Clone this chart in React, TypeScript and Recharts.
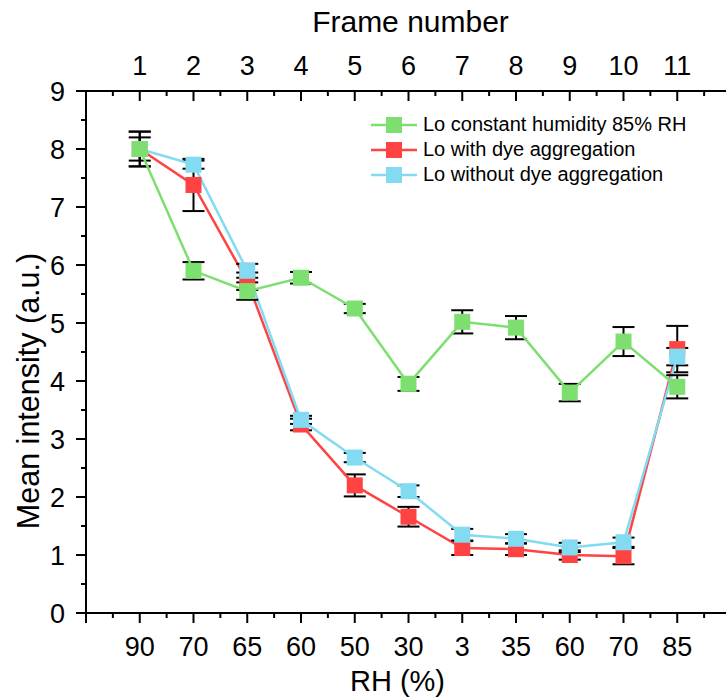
import React from "react";
import {
  LineChart,
  Line,
  XAxis,
  YAxis,
  ErrorBar,
  Label,
} from "recharts";

const frames = [1, 2, 3, 4, 5, 6, 7, 8, 9, 10, 11];
const rhLabels = ["90", "70", "65", "60", "50", "30", "3", "35", "60", "70", "85"];

const constHumidity = [8.0, 5.9, 5.55, 5.78, 5.25, 3.95, 5.02, 4.92, 3.8, 4.68, 3.9];
const constHumidityErr = [0.3, 0.15, 0.15, 0.1, 0.08, 0.12, 0.2, 0.2, 0.15, 0.25, 0.2];
const withAggregation = [8.0, 7.38, 5.72, 3.25, 2.2, 1.66, 1.12, 1.1, 1.0, 0.98, 4.55];
const withAggregationErr = [0.3, 0.45, 0.15, 0.1, 0.19, 0.17, 0.12, 0.1, 0.08, 0.14, 0.4];
const withoutAggregation = [8.0, 7.73, 5.9, 3.33, 2.68, 2.1, 1.35, 1.28, 1.13, 1.22, 4.42];
const withoutAggregationErr = [0.2, 0.07, 0.12, 0.07, 0.08, 0.1, 0.1, 0.08, 0.08, 0.08, 0.15];

const xTicks = [0, 0.5, 1, 1.5, 2, 2.5, 3, 3.5, 4, 4.5, 5, 5.5, 6, 6.5, 7, 7.5, 8, 8.5, 9, 9.5, 10, 10.5, 11, 11.5, 12];
const yTicks = [0, 0.5, 1, 1.5, 2, 2.5, 3, 3.5, 4, 4.5, 5, 5.5, 6, 6.5, 7, 7.5, 8, 8.5, 9];

const GREEN = "#7ddf6f";
const RED = "#ff4343";
const CYAN = "#82dbf0";
const FONT = "'Liberation Sans', Arial, sans-serif";

const data = frames.map((f, i) => ({
  x: f,
  g: constHumidity[i],
  gErr: constHumidityErr[i],
  r: withAggregation[i],
  rErr: withAggregationErr[i],
  c: withoutAggregation[i],
  cErr: withoutAggregationErr[i],
}));

const series = [
  { key: "r", err: "rErr", color: RED, name: "Lo with dye aggregation" },
  { key: "c", err: "cErr", color: CYAN, name: "Lo without dye aggregation" },
  { key: "g", err: "gErr", color: GREEN, name: "Lo constant humidity 85% RH" },
];
const legendOrder = ["g", "r", "c"];

const squareDot = (color: string) => (props: any) => {
  const { cx, cy, index } = props;
  if (cx == null || cy == null) return <g key={index} />;
  return <rect key={index} x={cx - 8} y={cy - 8} width={16} height={16} fill={color} />;
};

const BottomTick = (props: any) => {
  const { x, y, payload } = props;
  const v = payload.value;
  const major = Number.isInteger(v);
  const i = frames.indexOf(v);
  return (
    <g>
      <line x1={x} x2={x} y1={y} y2={y + (major ? 10 : 5)} stroke="#000" strokeWidth={2} />
      {i >= 0 && (
        <text x={x} y={y + 43} textAnchor="middle" fontSize={27} fontFamily={FONT} fill="#000">
          {rhLabels[i]}
        </text>
      )}
    </g>
  );
};

const TopTick = (props: any) => {
  const { x, y, payload } = props;
  const v = payload.value;
  const major = Number.isInteger(v);
  const i = frames.indexOf(v);
  return (
    <g>
      <line x1={x} x2={x} y1={y} y2={y + (major ? 10 : 5)} stroke="#000" strokeWidth={2} />
      {i >= 0 && (
        <text x={x} y={y - 16} textAnchor="middle" fontSize={27} fontFamily={FONT} fill="#000">
          {frames[i]}
        </text>
      )}
    </g>
  );
};

const LeftTick = (props: any) => {
  const { x, y, payload } = props;
  const v = payload.value;
  const major = Number.isInteger(v);
  return (
    <g>
      <line x1={x - (major ? 10 : 5)} x2={x} y1={y} y2={y} stroke="#000" strokeWidth={2} />
      {major && (
        <text x={x - 21} y={y + 10} textAnchor="end" fontSize={27} fontFamily={FONT} fill="#000">
          {v}
        </text>
      )}
    </g>
  );
};

const RightTick = (props: any) => {
  const { x, y, payload } = props;
  const major = Number.isInteger(payload.value);
  return <line x1={x - (major ? 10 : 5)} x2={x} y1={y} y2={y} stroke="#000" strokeWidth={2} />;
};

const LegendBox = () => (
  <div
    style={{
      position: "absolute",
      top: 112,
      left: 370,
      fontFamily: FONT,
      fontSize: 20,
      color: "#000",
    }}
  >
    {legendOrder.map((k) => {
      const s = series.find((d) => d.key === k)!;
      return (
        <div key={k} style={{ display: "flex", alignItems: "center", height: 25 }}>
          <svg width={48} height={18}>
            <line x1={1} x2={47} y1={9} y2={9} stroke={s.color} strokeWidth={2.5} />
            <rect x={16} y={1} width={16} height={16} fill={s.color} />
          </svg>
          <span style={{ marginLeft: 5, whiteSpace: "nowrap" }}>{s.name}</span>
        </div>
      );
    })}
  </div>
);

export default function App() {
  return (
    <div
      style={{
        position: "absolute",
        left: 0,
        top: 0,
        width: 726,
        height: 698,
        overflow: "hidden",
        background: "#fff",
      }}
    >
      <LineChart width={760} height={698} data={data} margin={{ top: 0, right: 0, bottom: 0, left: 0 }}>
        <XAxis
          dataKey="x"
          type="number"
          domain={[0, 12]}
          ticks={xTicks}
          interval={0}
          height={85}
          tickSize={0}
          tickMargin={0}
          tick={<BottomTick />}
          axisLine={{ stroke: "#000", strokeWidth: 2 }}
        >
          <Label
            content={(p: any) => (
              <text
                x={p.viewBox.x + p.viewBox.width / 2 - 11}
                y={p.viewBox.y + 78}
                textAnchor="middle"
                fontSize={29}
                fontFamily={FONT}
              >
                RH (%)
              </text>
            )}
          />
        </XAxis>
        <XAxis
          xAxisId="top"
          orientation="top"
          dataKey="x"
          type="number"
          domain={[0, 12]}
          ticks={xTicks}
          interval={0}
          height={91}
          tickSize={0}
          tickMargin={0}
          tick={<TopTick />}
          axisLine={{ stroke: "#000", strokeWidth: 2 }}
        >
          <Label
            content={(p: any) => (
              <text
                x={p.viewBox.x + p.viewBox.width / 2 + 2}
                y={p.viewBox.y + 32}
                textAnchor="middle"
                fontSize={30}
                fontFamily={FONT}
              >
                Frame number
              </text>
            )}
          />
        </XAxis>
        <YAxis
          type="number"
          domain={[0, 9]}
          ticks={yTicks}
          interval={0}
          width={86}
          tickSize={0}
          tickMargin={0}
          tick={<LeftTick />}
          axisLine={{ stroke: "#000", strokeWidth: 2 }}
        >
          <Label
            content={(p: any) => {
              const cx = 28;
              const cy = p.viewBox.y + p.viewBox.height / 2 + 39;
              return (
                <text
                  x={cx}
                  y={cy}
                  transform={`rotate(-90, ${cx}, ${cy})`}
                  textAnchor="middle"
                  dominantBaseline="central"
                  fontSize={30.5}
                  fontFamily={FONT}
                >
                  Mean intensity (a.u.)
                </text>
              );
            }}
          />
        </YAxis>
        <YAxis
          yAxisId="right"
          orientation="right"
          type="number"
          domain={[0, 9]}
          ticks={yTicks}
          interval={0}
          width={29}
          tickSize={0}
          tickMargin={0}
          tick={<RightTick />}
          axisLine={{ stroke: "#000", strokeWidth: 2 }}
        />
        {series.map((s) => (
          <Line
            key={s.key}
            dataKey={s.key}
            stroke={s.color}
            strokeWidth={2.5}
            dot={squareDot(s.color)}
            activeDot={false}
            isAnimationActive={false}
          >
            <ErrorBar dataKey={s.err} direction="y" width={11} strokeWidth={2} stroke="#000" />
          </Line>
        ))}
      </LineChart>
      <LegendBox />
    </div>
  );
}
